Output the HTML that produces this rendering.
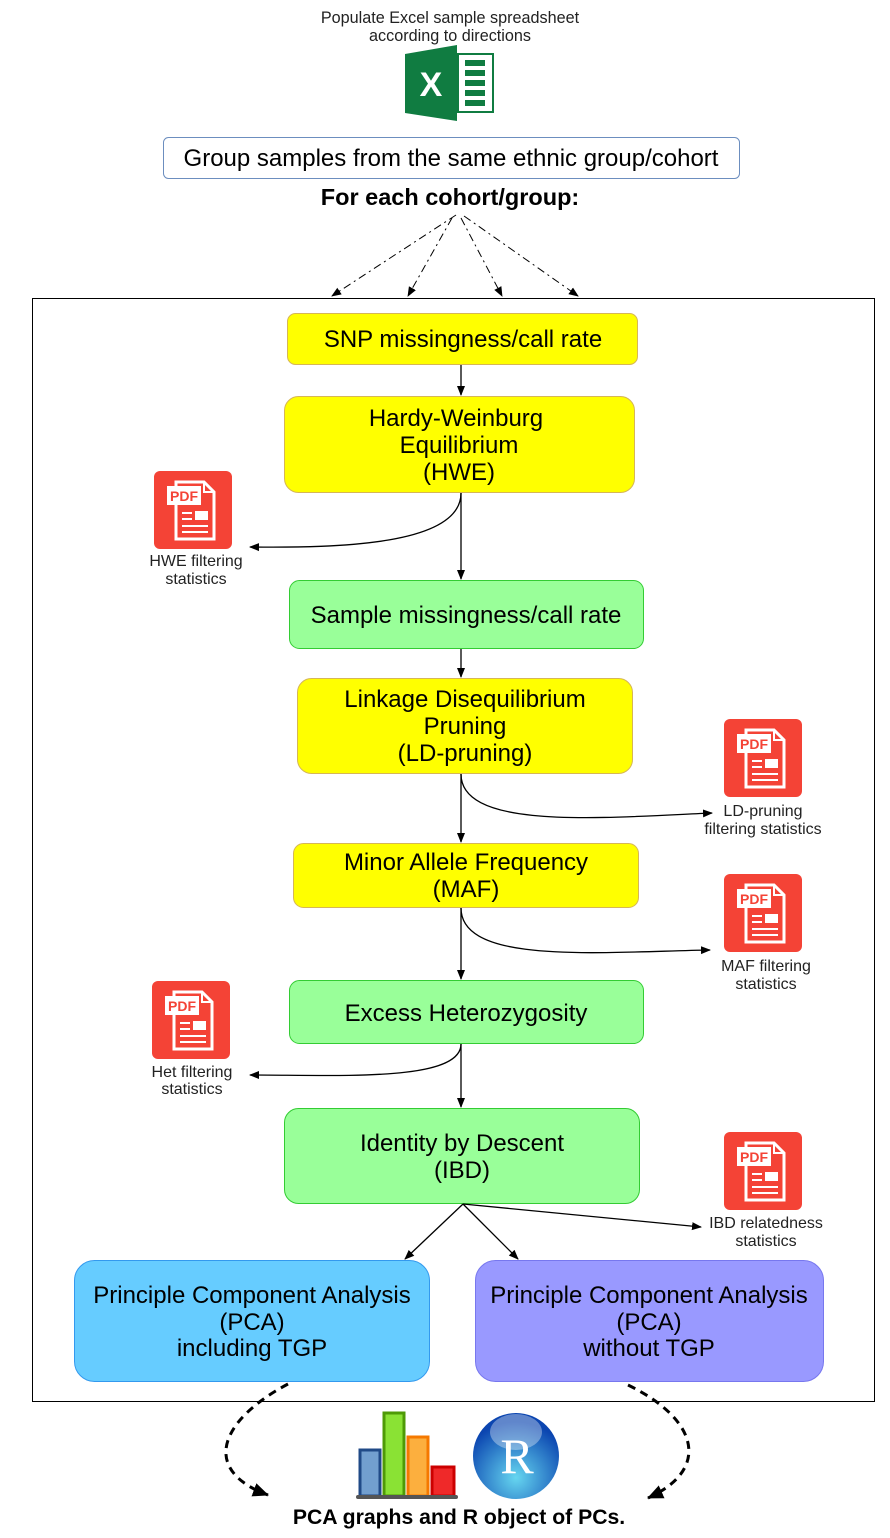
<!DOCTYPE html>
<html><head><meta charset="utf-8"><style>
body{margin:0;background:#fff}
svg{display:block;font-family:"Liberation Sans",sans-serif}
</style></head><body>
<svg width="890" height="1538" viewBox="0 0 890 1538" xmlns="http://www.w3.org/2000/svg">
<defs>
<marker id="a" markerWidth="10" markerHeight="10" refX="9" refY="5" orient="auto" markerUnits="userSpaceOnUse"><path d="M0,1 L10,5 L0,9 Z" fill="#000"/></marker>
<marker id="b" markerWidth="16" markerHeight="14" refX="15" refY="7" orient="auto" markerUnits="userSpaceOnUse"><path d="M0,0 L16,7 L0,14 Z" fill="#000"/></marker>
<radialGradient id="rg" cx="50%" cy="75%" r="65%"><stop offset="0" stop-color="#66d6f0"/><stop offset="1" stop-color="#0b45b0"/></radialGradient>
<g id="pdf">
<rect x="0" y="0" width="78" height="78" rx="6" fill="#f44336"/>
<path d="M22,11 H50 L60,21 V68 H22 Z" fill="none" stroke="#fff" stroke-width="3"/>
<path d="M50,11 V21 H60" fill="none" stroke="#fff" stroke-width="2"/>
<rect x="13" y="15" width="34" height="19" fill="#fff"/>
<text x="30" y="30" font-size="14" font-weight="bold" fill="#f44336" text-anchor="middle">PDF</text>
<g stroke="#fff" stroke-width="2"><line x1="28" y1="42" x2="38" y2="42"/><line x1="28" y1="48" x2="38" y2="48"/><line x1="28" y1="55" x2="54" y2="55"/><line x1="28" y1="61" x2="54" y2="61"/></g>
<rect x="41" y="40" width="13" height="9" fill="#fff"/>
</g>
</defs>

<text x="450" y="23" font-size="16.2" text-anchor="middle" fill="#222">Populate Excel sample spreadsheet</text>
<text x="450" y="41" font-size="16.2" text-anchor="middle" fill="#222">according to directions</text>
<rect x="458" y="54" width="35" height="58" fill="#fff" stroke="#107c41" stroke-width="2"/>
<g fill="#107c41"><rect x="465" y="60" width="20" height="6"/><rect x="465" y="70" width="20" height="6"/><rect x="465" y="80" width="20" height="6"/><rect x="465" y="90" width="20" height="6"/><rect x="465" y="100" width="20" height="6"/></g>
<path d="M405,54 L457,45 L457,121 L405,113 Z" fill="#107c41"/>
<text x="431" y="96" font-size="34" font-weight="bold" fill="#fff" text-anchor="middle">X</text>

<rect x="163.5" y="137.5" width="576" height="41" rx="5" fill="#fff" stroke="#6c8ebf"/>
<text x="451" y="166" font-size="24" text-anchor="middle">Group samples from the same ethnic group/cohort</text>
<text x="450" y="205" font-size="23.5" font-weight="bold" text-anchor="middle">For each cohort/group:</text>
<g stroke="#000" stroke-dasharray="8,4,2,4" fill="none" marker-end="url(#a)">
<line x1="456" y1="215" x2="332" y2="296"/><line x1="452" y1="218" x2="408" y2="296"/><line x1="461" y1="218" x2="502" y2="296"/><line x1="464" y1="216" x2="578" y2="296"/>
</g>

<rect x="32.5" y="298.5" width="842" height="1103" fill="none" stroke="#000"/>

<g font-size="24" text-anchor="middle">
<rect x="287.5" y="313.5" width="350" height="51" rx="8" fill="#ffff00" stroke="#d6b656"/>
<text x="463" y="347">SNP missingness/call rate</text>
<rect x="284.5" y="396.5" width="350" height="96" rx="14" fill="#ffff00" stroke="#d6b656"/>
<text x="456" y="426">Hardy-Weinburg</text><text x="459" y="453">Equilibrium</text><text x="459" y="480">(HWE)</text>
<rect x="289.5" y="580.5" width="354" height="68" rx="10" fill="#99ff99" stroke="#33cc33"/>
<text x="466" y="623">Sample missingness/call rate</text>
<rect x="297.5" y="678.5" width="335" height="95" rx="14" fill="#ffff00" stroke="#d6b656"/>
<text x="465" y="707">Linkage Disequilibrium</text><text x="465" y="734">Pruning</text><text x="465" y="761">(LD-pruning)</text>
<rect x="293.5" y="843.5" width="345" height="64" rx="10" fill="#ffff00" stroke="#d6b656"/>
<text x="466" y="870">Minor Allele Frequency</text><text x="466" y="897">(MAF)</text>
<rect x="289.5" y="980.5" width="354" height="63" rx="10" fill="#99ff99" stroke="#33cc33"/>
<text x="466" y="1021">Excess Heterozygosity</text>
<rect x="284.5" y="1108.5" width="355" height="95" rx="14" fill="#99ff99" stroke="#33cc33"/>
<text x="462" y="1151">Identity by Descent</text><text x="462" y="1178">(IBD)</text>
<rect x="74.5" y="1260.5" width="355" height="121" rx="20" fill="#66ccff" stroke="#3399ee"/>
<text x="252" y="1303">Principle Component Analysis</text><text x="252" y="1330">(PCA)</text><text x="252" y="1356">including TGP</text>
<rect x="475.5" y="1260.5" width="348" height="121" rx="20" fill="#9999ff" stroke="#7777ee"/>
<text x="649" y="1303">Principle Component Analysis</text><text x="649" y="1330">(PCA)</text><text x="649" y="1356">without TGP</text>
</g>

<g stroke="#000" stroke-width="1.3" fill="none" marker-end="url(#a)">
<line x1="461" y1="365" x2="461" y2="395"/>
<line x1="461" y1="493" x2="461" y2="579"/>
<path d="M461,493 C461,545 340,548 250,547"/>
<line x1="461" y1="649" x2="461" y2="677"/>
<line x1="461" y1="774" x2="461" y2="842"/>
<path d="M461,774 C461,830 600,818 712,813"/>
<line x1="461" y1="908" x2="461" y2="979"/>
<path d="M461,908 C461,965 600,952 710,950"/>
<line x1="461" y1="1044" x2="461" y2="1107"/>
<path d="M461,1044 C461,1082 340,1075 250,1075"/>
<line x1="463" y1="1204" x2="405" y2="1259"/>
<line x1="463" y1="1204" x2="518" y2="1259"/>
<line x1="463" y1="1204" x2="701" y2="1227"/>
</g>

<use href="#pdf" x="154" y="471"/>
<use href="#pdf" x="724" y="719"/>
<use href="#pdf" x="724" y="874"/>
<use href="#pdf" x="152" y="981"/>
<use href="#pdf" x="724" y="1132"/>
<g font-size="16" text-anchor="middle" fill="#222">
<text x="196" y="566">HWE filtering</text><text x="196" y="584">statistics</text>
<text x="763" y="816">LD-pruning</text><text x="763" y="834">filtering statistics</text>
<text x="766" y="971">MAF filtering</text><text x="766" y="989">statistics</text>
<text x="192" y="1077">Het filtering</text><text x="192" y="1094">statistics</text>
<text x="766" y="1228">IBD relatedness</text><text x="766" y="1246">statistics</text>
</g>

<g stroke="#000" stroke-width="3" stroke-dasharray="8,6" fill="none" marker-end="url(#b)">
<path d="M288,1384 C220,1420 200,1470 268,1495"/>
<path d="M628,1385 C700,1420 710,1470 648,1498"/>
</g>

<rect x="360" y="1450" width="20" height="46" fill="#729fcf" stroke="#204a87" stroke-width="3"/>
<rect x="384" y="1413" width="20" height="83" fill="#8ae234" stroke="#4e9a06" stroke-width="3"/>
<rect x="408" y="1437" width="20" height="59" fill="#fcaf3e" stroke="#f57900" stroke-width="3"/>
<rect x="432" y="1467" width="22" height="29" fill="#ef2929" stroke="#cc0000" stroke-width="3"/>
<line x1="358" y1="1497" x2="456" y2="1497" stroke="#555" stroke-width="4" stroke-linecap="round"/>
<circle cx="516" cy="1456" r="43" fill="url(#rg)"/>
<ellipse cx="516" cy="1432" rx="26" ry="18" fill="#fff" opacity="0.35"/>
<text x="517" y="1473" font-family="Liberation Serif,serif" font-size="50" fill="#fff" text-anchor="middle">R</text>

<text x="459" y="1524" font-size="21.2" font-weight="bold" text-anchor="middle">PCA graphs and R object of PCs.</text>
</svg>
</body></html>
